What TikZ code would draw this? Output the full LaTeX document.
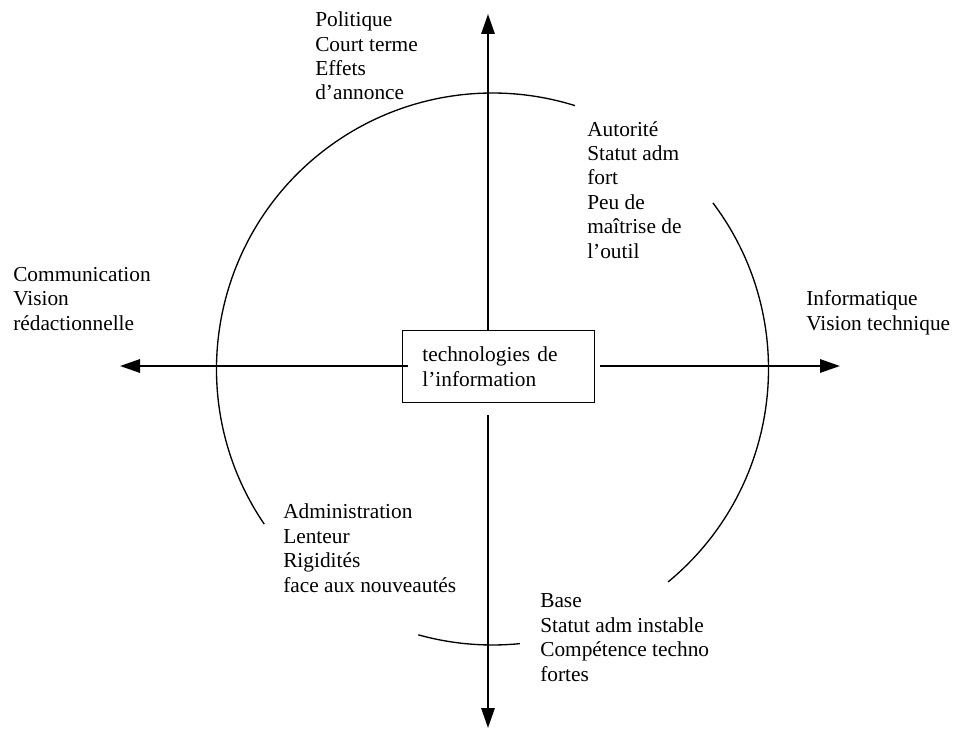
\documentclass[tikz,border=0pt]{standalone}
\usepackage{fontspec}
\setmainfont{Liberation Serif}
\usetikzlibrary{arrows.meta}
\begin{document}
\begin{tikzpicture}[x=0.75pt,y=-0.75pt,
  lbl/.style={font=\fontsize{16}{18.3}\selectfont, align=left, anchor=base west, inner sep=0pt},
  axis/.style={line width=1.5pt, -{Triangle[length=15pt,width=10pt]}},
  ring/.style={line width=1pt},
  centre/.style={draw, line width=1.1pt, anchor=north west, font=\fontsize{16}{18.3}\selectfont,
    align=left, text width=114pt, inner xsep=15pt, inner ysep=0pt, minimum height=54pt}]
\useasboundingbox (0,0) rectangle (954,731);

% central box
\node[centre] (ti) at (401.7,330) {technologies de\\l'information};

% free ends of the four axes
\coordinate (top) at (488,14);
\coordinate (bot) at (488,728);
\coordinate (lft) at (120,366);
\coordinate (rgt) at (840,366);

% axes
\draw[axis] (top |- ti.north) -- (top);
\draw[axis, shorten <=9pt] (bot |- ti.south) -- (bot);
\draw[axis, shorten <=-4.5pt] (ti.west |- lft) -- (lft);
\draw[axis, shorten <=3.75pt] (ti.east |- rgt) -- (rgt);

% broken circle around the centre
\coordinate (c) at (492.5,369);
\draw[ring] (c) ++(214.2:207pt) arc[start angle=214.2, end angle=72.6, radius=207pt];
\draw[ring] (c) ++(37:207pt) arc[start angle=37, end angle=-50.5, radius=207pt];
\draw[ring] (c) ++(254.4:207pt) arc[start angle=254.4, end angle=275.7, radius=207pt];

% quadrant and axis labels (anchored on the baseline of their last line)
\node[lbl] (pol) at (315,100) {Politique\\Court terme\\Effets\\d'annonce};
\node[lbl] (aut) at (587,258) {Autorité\\Statut adm\\fort\\Peu de\\maîtrise de\\l'outil};
\node[lbl] (com) at (13,330) {Communication\\Vision\\rédactionnelle};
\node[lbl] (inf) at (806,330) {Informatique\\Vision technique};
\node[lbl] (adm) at (283,592) {Administration\\Lenteur\\Rigidités\\face aux nouveautés};
\node[lbl] (bas) at (540,681) {Base\\Statut adm instable\\Compétence techno\\fortes};
\end{tikzpicture}
\end{document}
